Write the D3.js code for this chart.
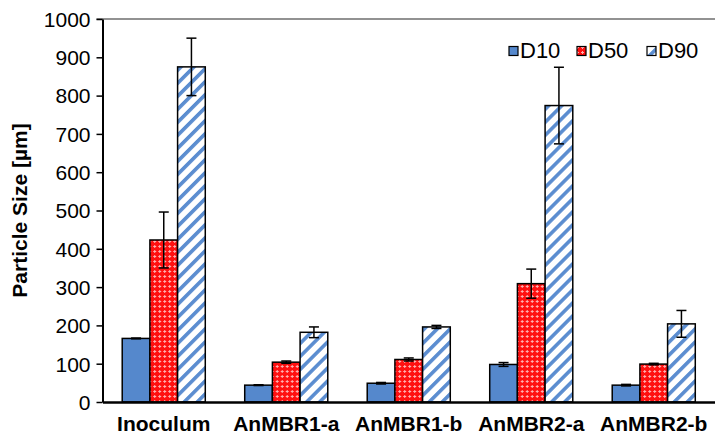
<!DOCTYPE html>
<html>
<head>
<meta charset="utf-8">
<script src="https://d3js.org/d3.v7.min.js"></script>
<style>
  body { margin: 0; background: #fff; }
  text { font-family: "Liberation Sans", Arial, sans-serif; fill: #000; }
</style>
</head>
<body>
<svg id="chart" width="715" height="435"></svg>
<script>
  // data
  var categories = ["Inoculum", "AnMBR1-a", "AnMBR1-b", "AnMBR2-a", "AnMBR2-b"];
  var seriesNames = ["D10", "D50", "D90"];
  var d10 = [166, 44, 49, 98, 44];
  var d50 = [423, 104, 111, 309, 99];
  var d90 = [875, 182, 196, 774, 204];
  var d10Err = [1, 1, 2, 5, 2];
  var d50Err = [73, 3, 4, 38, 2];
  var d90Err = [75, 14, 4, 100, 35];
  var yTicks = [0, 100, 200, 300, 400, 500, 600, 700, 800, 900, 1000];

  var values = [d10, d50, d90];
  var errors = [d10Err, d50Err, d90Err];

  var svg = d3.select("#chart");
  var margin = {left: 102.5, right: 0, top: 19, bottom: 33};
  var width = 715 - margin.left - margin.right,
      height = 435 - margin.top - margin.bottom;

  var defs = svg.append("defs");
  // D50: red with small white crosses
  var p50 = defs.append("pattern").attr("id", "pat50")
      .attr("patternUnits", "userSpaceOnUse").attr("width", 5).attr("height", 5);
  p50.append("rect").attr("width", 5).attr("height", 5).attr("fill", "#ff1010");
  p50.append("rect").attr("x", 1).attr("y", 2).attr("width", 3).attr("height", 1).attr("fill", "#ffb0b0");
  p50.append("rect").attr("x", 2).attr("y", 1).attr("width", 1).attr("height", 3).attr("fill", "#ffb0b0");
  // D90: blue diagonal stripes on white
  var p90 = defs.append("pattern").attr("id", "pat90")
      .attr("patternUnits", "userSpaceOnUse").attr("width", 9.2).attr("height", 9.2)
      .attr("patternTransform", "rotate(45)");
  p90.append("rect").attr("width", 9.2).attr("height", 9.2).attr("fill", "#fff");
  p90.append("rect").attr("width", 3.6).attr("height", 9.2).attr("fill", "#5b8dd0");

  var fills = ["#5588cc", "url(#pat50)", "url(#pat90)"];

  var g = svg.append("g").attr("transform", "translate(" + margin.left + "," + margin.top + ")");

  var x0 = d3.scaleBand().domain(categories).range([0, width]).paddingInner(0.322).paddingOuter(0.161);
  var x1 = d3.scaleBand().domain(seriesNames).range([0, x0.bandwidth()]);
  var y = d3.scaleLinear().domain([0, 1000]).range([height, 0]);

  // top line at max
  g.append("line").attr("x1", -6).attr("x2", width).attr("y1", y(1000)).attr("y2", y(1000))
    .attr("stroke", "#6e6e6e").attr("stroke-width", 1.5);

  var groups = g.selectAll(".grp").data(categories).enter().append("g")
    .attr("transform", function(d) { return "translate(" + x0(d) + ",0)"; });

  seriesNames.forEach(function(s, si) {
    groups.append("rect")
      .attr("x", x1(s))
      .attr("width", x1.bandwidth())
      .attr("y", function(d, i) { return y(values[si][i]); })
      .attr("height", function(d, i) { return height - y(values[si][i]); })
      .attr("fill", fills[si])
      .attr("stroke", "#000").attr("stroke-width", 1.5);
  });

  seriesNames.forEach(function(s, si) {
    var cx = x1(s) + x1.bandwidth() / 2;
    var eb = groups.append("g").attr("stroke", "#000").attr("stroke-width", 1.5);
    eb.append("line").attr("x1", cx).attr("x2", cx)
      .attr("y1", function(d, i) { return y(values[si][i] + errors[si][i]); })
      .attr("y2", function(d, i) { return y(values[si][i] - errors[si][i]); });
    [1, -1].forEach(function(sg) {
      eb.append("line").attr("x1", cx - 5).attr("x2", cx + 5)
        .attr("y1", function(d, i) { return y(values[si][i] + sg * errors[si][i]); })
        .attr("y2", function(d, i) { return y(values[si][i] + sg * errors[si][i]); });
    });
  });

  // y axis
  var yAxis = g.append("g")
    .call(d3.axisLeft(y).tickValues(yTicks).tickFormat(d3.format("d")).tickSize(6).tickPadding(6).tickSizeOuter(0));
  yAxis.select(".domain").attr("stroke", "#000").attr("stroke-width", 2);
  yAxis.selectAll(".tick line").attr("stroke", "#000").attr("stroke-width", 1.5);
  yAxis.selectAll("text").style("font-size", "21px").style("font-family", "Liberation Sans, Arial, sans-serif")
    .attr("fill", "#000").attr("dy", "0.35em");

  // x axis
  var xAxis = g.append("g").attr("transform", "translate(0," + height + ")")
    .call(d3.axisBottom(x0).tickSize(0).tickSizeOuter(0).tickPadding(14));
  xAxis.select(".domain").attr("stroke", "#000").attr("stroke-width", 2.5);
  xAxis.selectAll("text").style("font-size", "21px").style("font-weight", "bold")
    .style("font-family", "Liberation Sans, Arial, sans-serif").attr("fill", "#000");

  // y title
  svg.append("text")
    .attr("transform", "translate(27," + (margin.top + height / 2) + ") rotate(-90)")
    .attr("text-anchor", "middle")
    .style("font-size", "21px").style("font-weight", "bold")
    .text("Particle Size [µm]");

  // legend
  var legendX = [509, 577, 647];
  var leg = svg.append("g");
  seriesNames.forEach(function(s, si) {
    leg.append("rect").attr("x", legendX[si]).attr("y", 46.5).attr("width", 9).attr("height", 9)
      .attr("fill", fills[si]).attr("stroke", "#000").attr("stroke-width", 1.2);
    leg.append("text").attr("x", legendX[si] + 11).attr("y", 58)
      .style("font-size", "22px").text(s);
  });
</script>
</body>
</html>
